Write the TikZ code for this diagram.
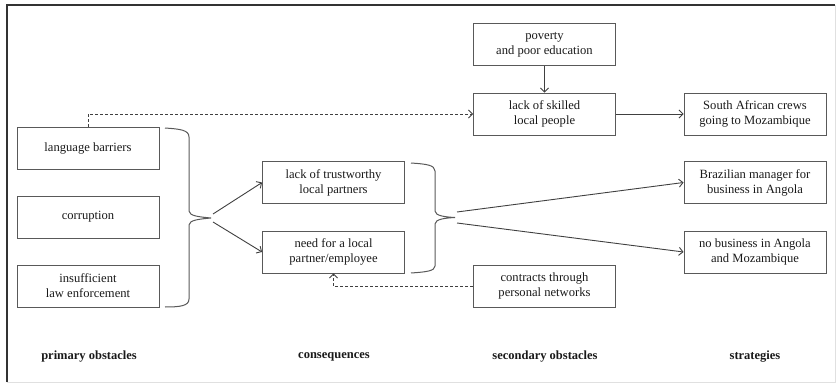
\documentclass[tikz,border=0pt]{standalone}
\usepackage{fontspec}
\setmainfont{Liberation Serif}
\usetikzlibrary{arrows.meta}
\begin{document}
\begin{tikzpicture}[x=1pt,y=-1pt,
  box/.style={draw=black!65,line width=0.9pt,minimum width=142pt,minimum height=42pt,align=center,inner sep=2pt,font=\fontsize{12.6}{15}\selectfont,text=black!90},
  lbl/.style={font=\fontsize{12.5}{14}\selectfont\bfseries,text=black!90},
  conn/.style={draw=black!75,line width=0.9pt,-{Straight Barb[length=4pt,width=8pt]}},
  dconn/.style={conn,dashed,dash pattern=on 3pt off 2pt},
  brace/.style={draw=black!65,line width=1pt}]
\useasboundingbox (0,0) rectangle (836,385);
\draw[black!12,line width=0.8pt] (835,5) -- (835,382) -- (7,382);
\draw[black!80,line width=2pt] (7,382) -- (7,5) -- (835,5);
% nodes
\node[box] (lang) at (88,148) {language barriers};
\node[box] (corr) at (88,217) {corruption};
\node[box] (law) at (88,286) {insufficient\\law enforcement};
\node[box] (trust) at (333.5,182.5) {lack of trustworthy\\local partners};
\node[box] (need) at (333.5,252) {need for a local\\partner/employee};
\node[box] (pov) at (544.5,44.5) {poverty\\and poor education};
\node[box] (skill) at (544.5,114) {lack of skilled\\local people};
\node[box] (contr) at (544.5,286) {contracts through\\personal networks};
\node[box] (sac) at (755,114) {South African crews\\going to Mozambique};
\node[box] (braz) at (755,182.5) {Brazilian manager for\\business in Angola};
\node[box] (nobiz) at (755,252) {no business in Angola\\and Mozambique};
% braces
\draw[brace] (165,128) .. controls (180,129) and (189,130) .. (189,137) -- (189,211) .. controls (189,216) and (200,217) .. (211,218) .. controls (200,219) and (189,220) .. (189,225) -- (189,299) .. controls (189,306) and (180,307) .. (165,307);
\draw[brace] (411,163) .. controls (426,164) and (435,165) .. (435,171) -- (435,211) .. controls (435,216) and (446,217) .. (455,217.5) .. controls (446,218) and (435,219) .. (435,224) -- (435,266) .. controls (435,271) and (426,272) .. (411,273);
\coordinate (b1a) at (213,214);
\coordinate (b1b) at (213,222);
\coordinate (b2a) at (457,212);
\coordinate (b2b) at (457,223);
% connectors
\draw[conn] (b1a) -- (trust.west);
\draw[conn] (b1b) -- (need.west);
\draw[conn] (b2a) -- (braz.west);
\draw[conn] (b2b) -- (nobiz.west);
\draw[conn] (pov) -- (skill);
\draw[conn] (skill) -- (sac);
\draw[dconn] (lang.north) |- (skill.west);
\draw[dconn] (contr.west) -| (need.south);
% labels
\node[lbl] (l1) at (89,357) {primary obstacles};
\node[lbl] (l2) at (334,357) {consequences};
\node[lbl] (l3) at (545,357) {secondary obstacles};
\node[lbl] (l4) at (755,357) {strategies};
\end{tikzpicture}
\end{document}
